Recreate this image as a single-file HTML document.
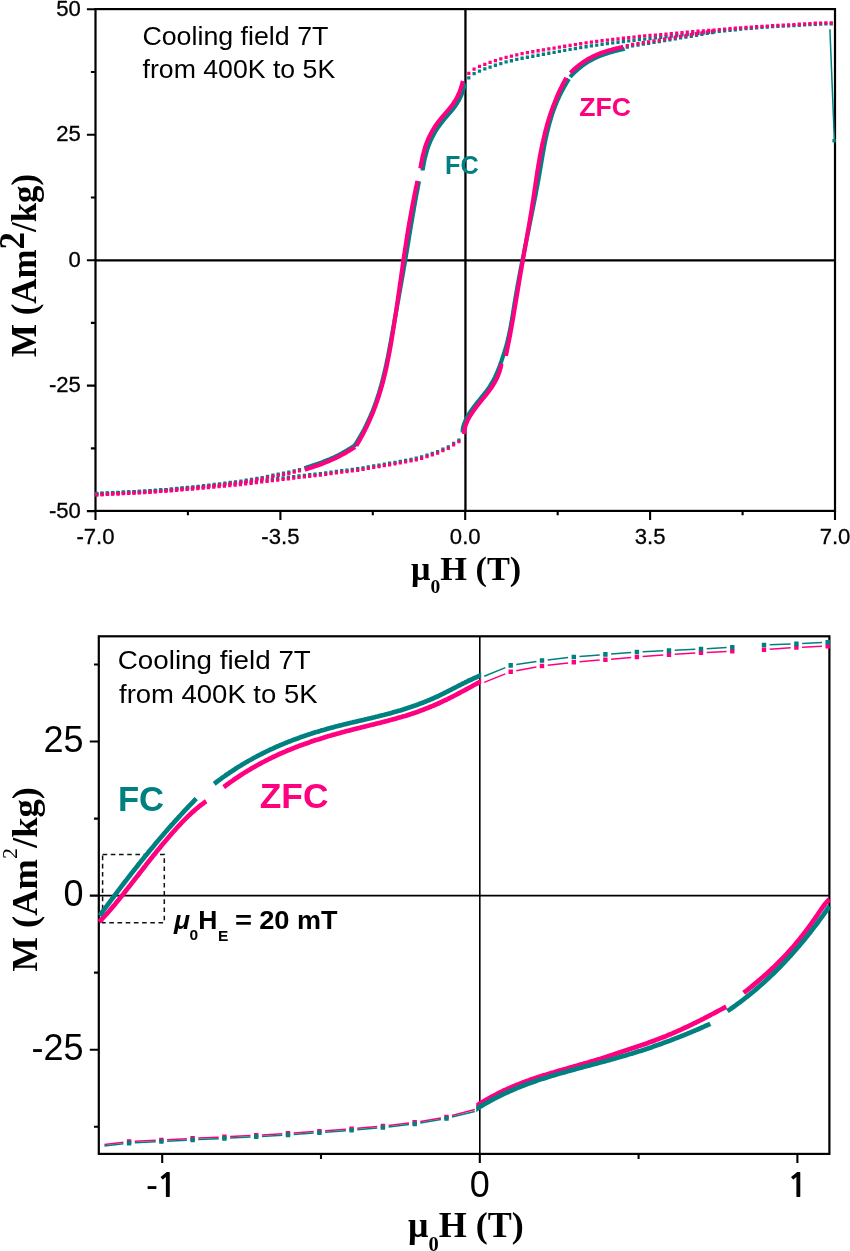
<!DOCTYPE html>
<html><head><meta charset="utf-8"><title>M-H loops</title>
<style>html,body{margin:0;padding:0;background:#fff;width:850px;height:1251px;overflow:hidden}svg{display:block}</style>
</head><body>
<svg width="850" height="1251" viewBox="0 0 850 1251">
<rect x="95.5" y="9.1" width="739.5" height="501.8" fill="none" stroke="#000" stroke-width="2.2"/><path d="M95.5,260.35H835.0" stroke="#000" stroke-width="2.1" fill="none"/><path d="M465.45,9.1V510.9" stroke="#000" stroke-width="2.3" fill="none"/><path d="M468.8,76.3v3.3M474.1,72v3.3M479.5,69.4v3.3M484.8,67.3v3.3M490.1,65.4v3.3M495.4,63.6v3.3M500.8,61.9v3.3M506.1,60.3v3.3M511.4,59.1v3.3M516.8,57.8v3.3M522.1,56.6v3.3M527.4,55.6v3.3M532.8,54.6v3.3M538.1,53.6v3.3M543.4,52.6v3.3M548.8,51.6v3.3M554.1,50.7v3.3M559.4,49.7v3.3M564.7,48.8v3.3M570.1,47.8v3.3M575.4,46.9v3.3M580.7,46v3.3M586.1,45.1v3.3M591.4,44.3v3.3M596.7,43.5v3.3M602.1,42.8v3.3M607.4,42v3.3M612.7,41.3v3.3M618,40.6v3.3M623.4,40v3.3M628.7,39.3v3.3M634,38.7v3.3M639.4,38v3.3M644.7,37.4v3.3M650,36.9v3.3M655.4,36.3v3.3M660.7,35.7v3.3M666,35.1v3.3M671.3,34.5v3.3M676.7,33.9v3.3M682,33.3v3.3M687.3,32.7v3.3M692.7,32.1v3.3M698,31.7v3.3M703.3,31.2v3.3M708.7,30.7v3.3M714,30.2v3.3M719.3,29.7v3.3M724.6,29.2v3.3M730,28.6v3.3M735.3,28.1v3.3M740.6,27.5v3.3M746,27v3.3M751.3,26.6v3.3M756.6,26.1v3.3M762,25.7v3.3M767.3,25.4v3.3M772.6,25v3.3M777.9,24.7v3.3M783.3,24.4v3.3M788.6,24.2v3.3M793.9,23.9v3.3M799.3,23.6v3.3M804.6,23.3v3.3M809.9,22.9v3.3M815.3,22.6v3.3M820.6,22.4v3.3M825.9,22.3v3.3M831.2,22.3v3.3" stroke="#008080" stroke-width="3.2" fill="none"/><path d="M465.1,83.2 L464.7,84.7 L464.3,86.2 L463.9,87.7 L463.4,89.2 L463,90.7 L462.4,92.2 L461.9,93.7 L461.3,95.2 L460.6,96.7 L459.9,98.2 L459.2,99.7 L458.3,101.2 L457.4,102.7 L456.5,104.2 L455.5,105.7 L454.4,107.2 L453.2,108.7 L452,110.2 L450.8,111.7 L449.5,113.2 L448.2,114.7 L446.9,116.2 L445.6,117.7 L444.3,119.2 L443.1,120.7 L441.9,122.2 L440.7,123.7 L439.6,125.2 L438.5,126.7 L437.5,128.2 L436.5,129.7 L435.6,131.2 L434.7,132.7 L433.9,134.2 L433.1,135.7 L432.3,137.2 L431.6,138.7 L430.9,140.2 L430.2,141.7 L429.6,143.2 L429,144.7 L428.4,146.2 L427.9,147.7 L427.4,149.2 L426.9,150.7 L426.5,152.2 L426.1,153.7 L425.7,155.2 L425.3,156.7 L424.9,158.2 L424.6,159.7 L424.3,161.2 L424,162.7 L423.7,164.2 L423.4,165.7 L423.1,167.2 L422.9,168.7 L422.6,170.2 L422.6,170.6" fill="none" stroke="#008080" stroke-width="4.15" stroke-linejoin="round" stroke-linecap="butt"/><path d="M419,181.4 L418.7,182.9 L418.4,184.4 L418.1,185.9 L417.8,187.4 L417.6,188.9 L417.3,190.4 L417,191.9 L416.7,193.4 L416.4,194.9 L416.1,196.4 L415.9,197.9 L415.6,199.4 L415.3,200.9 L415,202.4 L414.8,203.9 L414.5,205.4 L414.2,206.9 L414,208.4 L413.7,209.9 L413.5,211.4 L413.2,212.9 L412.9,214.4 L412.7,215.9 L412.4,217.4 L412.2,218.9 L411.9,220.4 L411.7,221.9 L411.4,223.4 L411.1,224.9 L410.9,226.4 L410.6,227.9 L410.4,229.4 L410.1,230.9 L409.9,232.4 L409.6,233.9 L409.4,235.4 L409.1,236.9 L408.9,238.4 L408.6,239.9 L408.4,241.4 L408.2,242.9 L407.9,244.4 L407.7,245.9 L407.4,247.4 L407.2,248.9 L406.9,250.4 L406.7,251.9 L406.4,253.4 L406.1,254.9 L405.9,256.4 L405.6,257.9 L405.4,259.4 L405.1,260.9 L404.9,262.4 L404.6,263.9 L404.4,265.4 L404.1,266.9 L403.8,268.4 L403.6,269.9 L403.3,271.4 L403.1,272.9 L402.8,274.4 L402.5,275.9 L402.3,277.4 L402,278.9 L401.7,280.4 L401.5,281.9 L401.2,283.4 L400.9,284.9 L400.7,286.4 L400.4,287.9 L400.1,289.4 L399.9,290.9 L399.6,292.4 L399.3,293.9 L399.1,295.4 L398.8,296.9 L398.5,298.4 L398.3,299.9 L398,301.4 L397.7,302.9 L397.4,304.4 L397.2,305.9 L396.9,307.4 L396.6,308.9 L396.4,310.4 L396.1,311.9 L395.8,313.4 L395.6,314.9 L395.3,316.4 L395,317.9 L394.7,319.4 L394.5,320.9 L394.2,322.4 L393.9,323.9 L393.7,325.4 L393.4,326.9 L393.1,328.4 L392.9,329.9 L392.6,331.4 L392.3,332.9 L392,334.4 L391.8,335.9 L391.5,337.4 L391.2,338.9 L391,340.4 L390.7,341.9 L390.4,343.4 L390.2,344.9 L389.9,346.4 L389.6,347.9 L389.3,349.4 L389,350.9 L388.7,352.4 L388.5,353.9 L388.2,355.4 L387.9,356.9 L387.6,358.4 L387.3,359.9 L386.9,361.4 L386.6,362.9 L386.3,364.4 L386,365.9 L385.7,367.4 L385.3,368.9 L385,370.4 L384.6,371.9 L384.3,373.4 L383.9,374.9 L383.5,376.4 L383.2,377.9 L382.8,379.4 L382.4,380.9 L382,382.4 L381.6,383.9 L381.2,385.4 L380.7,386.9 L380.3,388.4 L379.9,389.9 L379.4,391.4 L379,392.9 L378.5,394.4 L378,395.9 L377.5,397.4 L377,398.9 L376.5,400.4 L376,401.9 L375.4,403.4 L374.9,404.9 L374.3,406.4 L373.8,407.9 L373.2,409.4 L372.6,410.9 L372,412.4 L371.4,413.9 L370.7,415.4 L370.1,416.9 L369.4,418.4 L368.7,419.9 L368,421.4 L367.3,422.9 L366.6,424.4 L365.9,425.9 L365.1,427.4 L364.4,428.9 L363.6,430.4 L362.8,431.9 L362,433.4 L361.1,434.9 L360.3,436.4 L359.4,437.9 L358.5,439.4 L357.6,440.9 L356.7,442.4 L355.8,443.9 L355.2,444.9" fill="none" stroke="#008080" stroke-width="4.15" stroke-linejoin="round" stroke-linecap="butt"/><path d="M304.4,468.1 L305.9,467.7 L307.4,467.2 L308.9,466.7 L310.4,466.3 L311.9,465.8 L313.4,465.3 L314.9,464.8 L316.4,464.3 L317.9,463.7 L319.4,463.2 L320.9,462.7 L322.4,462.1 L323.9,461.5 L325.4,460.9 L326.9,460.3 L328.4,459.7 L329.9,459.1 L331.4,458.4 L332.9,457.8 L334.4,457.1 L335.9,456.4 L337.4,455.6 L338.9,454.9 L340.4,454.1 L341.9,453.3 L343.4,452.4 L344.9,451.6 L346.4,450.7 L347.9,449.8 L349.4,448.9 L350.9,447.9 L352.4,446.9 L353.9,445.9 L355.4,444.8 L356.2,444.3" fill="none" stroke="#008080" stroke-width="4.15" stroke-linejoin="round" stroke-linecap="butt"/><path d="M299.5,467.9v3.3M294.2,469.2v3.3M288.8,470.5v3.3M283.5,471.5v3.3M278.2,472.6v3.3M272.9,473.6v3.3M267.5,474.8v3.3M262.2,475.9v3.3M256.9,476.8v3.3M251.5,477.7v3.3M246.2,478.6v3.3M240.9,479.5v3.3M235.5,480.2v3.3M230.2,480.8v3.3M224.9,481.5v3.3M219.6,482.2v3.3M214.2,482.8v3.3M208.9,483.4v3.3M203.6,484.1v3.3M198.2,484.7v3.3M192.9,485.2v3.3M187.6,485.8v3.3M182.2,486.3v3.3M176.9,486.8v3.3M171.6,487.4v3.3M166.2,487.9v3.3M160.9,488.3v3.3M155.6,488.7v3.3M150.3,489.2v3.3M144.9,489.5v3.3M139.6,489.8v3.3M134.3,490.1v3.3M128.9,490.3v3.3M123.6,490.6v3.3M118.3,490.9v3.3M112.9,491.1v3.3M107.6,491.4v3.3M102.3,491.7v3.3M97,492v3.3" stroke="#008080" stroke-width="3.2" fill="none"/><path d="M96.5,491.7v3.3M101.8,491.4v3.3M107.2,491.2v3.3M112.5,490.9v3.3M117.8,490.7v3.3M123.1,490.4v3.3M128.5,490.2v3.3M133.8,489.9v3.3M139.1,489.7v3.3M144.5,489.5v3.3M149.8,489.1v3.3M155.1,488.7v3.3M160.5,488.3v3.3M165.8,488v3.3M171.1,487.6v3.3M176.5,487.2v3.3M181.8,486.7v3.3M187.1,486.3v3.3M192.4,485.9v3.3M197.8,485.5v3.3M203.1,485v3.3M208.4,484.5v3.3M213.8,484v3.3M219.1,483.5v3.3M224.4,483v3.3M229.8,482.5v3.3M235.1,482v3.3M240.4,481.5v3.3M245.7,480.8v3.3M251.1,480.2v3.3M256.4,479.5v3.3M261.7,478.8v3.3M267.1,478.2v3.3M272.4,477.5v3.3M277.7,476.9v3.3M283.1,476.2v3.3M288.4,475.6v3.3M293.7,474.9v3.3M299,474.3v3.3M304.4,473.7v3.3M309.7,473.1v3.3M315,472.5v3.3M320.4,471.9v3.3M325.7,471.2v3.3M331,470.5v3.3M336.4,469.8v3.3M341.7,469v3.3M347,468.4v3.3M352.3,467.8v3.3M357.7,467.1v3.3M363,466.2v3.3M368.3,465.3v3.3M373.7,464.3v3.3M379,463.4v3.3M384.3,462.5v3.3M389.6,461.6v3.3M395,460.7v3.3M400.3,459.8v3.3M405.6,458.8v3.3M411,457.7v3.3M416.3,456.6v3.3M421.6,455.3v3.3M427,453.5v3.3M432.3,451.8v3.3M437.6,449.9v3.3M442.9,447.5v3.3M448.3,445.2v3.3M453.6,441.8v3.3M458.9,438.5v3.3" stroke="#008080" stroke-width="3.2" fill="none"/><path d="M568.9,78.9 L568,80.4 L567.1,81.9 L566.2,83.4 L565.3,84.9 L564.4,86.4 L563.6,87.9 L562.8,89.4 L562,90.9 L561.2,92.4 L560.5,93.9 L559.7,95.4 L559,96.9 L558.4,98.4 L557.7,99.9 L557,101.4 L556.4,102.9 L555.8,104.4 L555.2,105.9 L554.6,107.4 L554.1,108.9 L553.5,110.4 L553,111.9 L552.5,113.4 L552,114.9 L551.5,116.4 L551.1,117.9 L550.6,119.4 L550.2,120.9 L549.7,122.4 L549.3,123.9 L548.9,125.4 L548.5,126.9 L548.1,128.4 L547.8,129.9 L547.4,131.4 L547,132.9 L546.7,134.4 L546.4,135.9 L546,137.4 L545.7,138.9 L545.4,140.4 L545.1,141.9 L544.8,143.4 L544.5,144.9 L544.2,146.4 L543.9,147.9 L543.7,149.4 L543.4,150.9 L543.1,152.4 L542.9,153.9 L542.6,155.4 L542.3,156.9 L542.1,158.4 L541.8,159.9 L541.6,161.4 L541.3,162.9 L541.1,164.4 L540.8,165.9 L540.6,167.4 L540.3,168.9 L540,170.4 L539.8,171.9 L539.5,173.4 L539.3,174.9 L539,176.4 L538.7,177.9 L538.5,179.4 L538.2,180.9 L537.9,182.4 L537.6,183.9 L537.4,185.4 L537.1,186.9 L536.8,188.4 L536.5,189.9 L536.2,191.4 L535.9,192.9 L535.7,194.4 L535.4,195.9 L535.1,197.4 L534.8,198.9 L534.5,200.4 L534.2,201.9 L533.9,203.4 L533.6,204.9 L533.3,206.4 L533,207.9 L532.7,209.4 L532.4,210.9 L532.1,212.4 L531.8,213.9 L531.5,215.4 L531.2,216.9 L530.9,218.4 L530.6,219.9 L530.3,221.4 L530,222.9 L529.7,224.4 L529.4,225.9 L529.1,227.4 L528.8,228.9 L528.5,230.4 L528.2,231.9 L527.8,233.4 L527.5,234.9 L527.2,236.4 L526.9,237.9 L526.6,239.4 L526.3,240.9 L526,242.4 L525.7,243.9 L525.4,245.4 L525.1,246.9 L524.8,248.4 L524.5,249.9 L524.2,251.4 L523.9,252.9 L523.6,254.4 L523.3,255.9 L523,257.4 L522.7,258.9 L522.4,260.4 L522.1,261.9 L521.8,263.4 L521.5,264.9 L521.2,266.4 L520.9,267.9 L520.6,269.4 L520.4,270.9 L520.1,272.4 L519.8,273.9 L519.5,275.4 L519.2,276.9 L518.9,278.4 L518.7,279.9 L518.4,281.4 L518.1,282.9 L517.8,284.4 L517.6,285.9 L517.3,287.4 L517,288.9 L516.8,290.4 L516.5,291.9 L516.2,293.4 L516,294.9 L515.7,296.4 L515.5,297.9 L515.2,299.4 L515,300.9 L514.7,302.4 L514.5,303.9 L514.2,305.4 L514,306.9 L513.7,308.4 L513.5,309.9 L513.3,311.4 L513,312.9 L512.8,314.4 L512.5,315.9 L512.3,317.4 L512,318.9 L511.8,320.4 L511.5,321.9 L511.3,323.4 L511,324.9 L510.7,326.4 L510.4,327.9 L510.1,329.4 L509.8,330.9 L509.5,332.4 L509.2,333.9 L508.9,335.4 L508.5,336.9 L508.2,338.4 L507.8,339.9 L507.5,341.4 L507.1,342.9 L506.7,344.4 L506.3,345.9 L505.8,347.4 L505.4,348.9 L504.9,350.4 L504.5,351.9 L504,353.4 L503.5,354.9 L503,356.4 L502.5,357.9 L502,359.4 L501.5,360.9 L500.9,362.4 L500.4,363.9 L499.9,365.4 L499.3,366.9 L498.7,368.4 L498.1,369.9 L497.5,371.4 L496.9,372.9 L496.2,374.4 L495.6,375.9 L494.9,377.4 L494.1,378.9 L493.3,380.4 L492.5,381.9 L491.6,383.4 L490.7,384.9 L489.8,386.4 L488.8,387.9 L487.7,389.4 L486.6,390.9 L485.5,392.4 L484.3,393.9 L483.1,395.4 L481.9,396.9 L480.7,398.4 L479.5,399.9 L478.2,401.4 L477,402.9 L475.8,404.4 L474.7,405.9 L473.5,407.4 L472.4,408.9 L471.3,410.4 L470.3,411.9 L469.3,413.4 L468.4,414.9 L467.5,416.4 L466.7,417.9 L466,419.4 L465.3,420.9 L464.7,422.4 L464.1,423.9 L463.6,425.4 L463.3,426.9 L462.9,428.4 L462.7,429.9 L462.6,431.4 L462.5,432.5" fill="none" stroke="#008080" stroke-width="4.15" stroke-linejoin="round" stroke-linecap="butt"/><path d="M570.1,77 L571.6,75.3 L573.1,73.8 L574.6,72.3 L576.1,70.9 L577.6,69.6 L579.1,68.3 L580.6,67.1 L582.1,65.9 L583.6,64.8 L585.1,63.8 L586.6,62.8 L588.1,61.8 L589.6,60.9 L591.1,60.1 L592.6,59.3 L594.1,58.5 L595.6,57.8 L597.1,57.1 L598.6,56.5 L600.1,55.9 L601.6,55.3 L603.1,54.7 L604.6,54.2 L606.1,53.7 L607.6,53.2 L609.1,52.8 L610.6,52.3 L612.1,51.9 L613.6,51.5 L615.1,51.1 L616.6,50.7 L618.1,50.3 L619.6,50 L621.1,49.6 L622.6,49.2 L624.1,48.9 L624.6,48.7" fill="none" stroke="#008080" stroke-width="4.15" stroke-linejoin="round" stroke-linecap="butt"/><path d="M627.3,45.4v3.3M632.6,44.3v3.3M638,43.4v3.3M643.3,42.5v3.3M648.6,41.7v3.3M654,40.8v3.3M659.3,39.9v3.3M664.6,39v3.3M669.9,38.1v3.3M675.3,37.1v3.3M680.6,36.3v3.3M685.9,35.4v3.3M691.3,34.6v3.3M696.6,33.6v3.3M701.9,32.7v3.3M707.3,31.8v3.3M712.6,30.9v3.3" stroke="#008080" stroke-width="3.2" fill="none"/><path d="M829.9,29.2L834.4,140.8" stroke="#008080" stroke-width="1.5" fill="none"/><rect x="832.4" y="139" width="3.4" height="3.4" fill="#008080"/><path d="M468.8,71.8v3.3M474.1,67.4v3.3M479.5,64.8v3.3M484.8,62.7v3.3M490.1,60.8v3.3M495.4,59v3.3M500.8,57.3v3.3M506.1,55.7v3.3M511.4,54.5v3.3M516.8,53.2v3.3M522.1,52v3.3M527.4,51v3.3M532.8,50.1v3.3M538.1,49.1v3.3M543.4,48.2v3.3M548.8,47.3v3.3M554.1,46.4v3.3M559.4,45.5v3.3M564.7,44.6v3.3M570.1,43.7v3.3M575.4,42.9v3.3M580.7,42.1v3.3M586.1,41.3v3.3M591.4,40.4v3.3M596.7,39.8v3.3M602.1,39.1v3.3M607.4,38.4v3.3M612.7,37.7v3.3M618,37.2v3.3M623.4,36.6v3.3M628.7,36v3.3M634,35.4v3.3M639.4,34.8v3.3M644.7,34.3v3.3M650,33.8v3.3M655.4,33.4v3.3M660.7,32.9v3.3M666,32.4v3.3M671.3,31.9v3.3M676.7,31.4v3.3M682,30.9v3.3M687.3,30.4v3.3M692.7,29.9v3.3M698,29.5v3.3M703.3,29.2v3.3M708.7,28.8v3.3M714,28.4v3.3M719.3,28v3.3M724.6,27.5v3.3M730,27.1v3.3M735.3,26.6v3.3M740.6,26.2v3.3M746,25.8v3.3M751.3,25.4v3.3M756.6,25.1v3.3M762,24.7v3.3M767.3,24.4v3.3M772.6,24v3.3M777.9,23.7v3.3M783.3,23.4v3.3M788.6,23.2v3.3M793.9,22.9v3.3M799.3,22.6v3.3M804.6,22.3v3.3M809.9,21.9v3.3M815.3,21.6v3.3M820.6,21.4v3.3M825.9,21.3v3.3M831.2,21.3v3.3" stroke="#ff0080" stroke-width="3.2" fill="none"/><path d="M462.9,81 L462.5,82.5 L462.1,84 L461.7,85.5 L461.2,87 L460.8,88.5 L460.2,90 L459.7,91.5 L459.1,93 L458.4,94.5 L457.7,96 L457,97.5 L456.1,99 L455.2,100.5 L454.3,102 L453.3,103.5 L452.2,105 L451,106.5 L449.8,108 L448.6,109.5 L447.3,111 L446,112.5 L444.7,114 L443.4,115.5 L442.1,117 L440.9,118.5 L439.7,120 L438.5,121.5 L437.4,123 L436.3,124.5 L435.3,126 L434.3,127.5 L433.4,129 L432.5,130.5 L431.7,132 L430.9,133.5 L430.1,135 L429.4,136.5 L428.7,138 L428,139.5 L427.4,141 L426.8,142.5 L426.2,144 L425.7,145.5 L425.2,147 L424.7,148.5 L424.3,150 L423.9,151.5 L423.5,153 L423.1,154.5 L422.7,156 L422.4,157.5 L422.1,159 L421.8,160.5 L421.5,162 L421.2,163.5 L420.9,165 L420.7,166.5 L420.5,168 L420.4,168.5" fill="none" stroke="#ff0080" stroke-width="4.15" stroke-linejoin="round" stroke-linecap="butt"/><path d="M417.5,180.9 L417.2,182.4 L416.8,183.9 L416.5,185.4 L416.2,186.9 L415.8,188.4 L415.5,189.9 L415.2,191.4 L414.9,192.9 L414.6,194.4 L414.3,195.9 L414,197.4 L413.7,198.9 L413.4,200.4 L413.1,201.9 L412.8,203.4 L412.5,204.9 L412.2,206.4 L412,207.9 L411.7,209.4 L411.4,210.9 L411.1,212.4 L410.9,213.9 L410.6,215.4 L410.3,216.9 L410.1,218.4 L409.8,219.9 L409.5,221.4 L409.3,222.9 L409,224.4 L408.8,225.9 L408.5,227.4 L408.3,228.9 L408,230.4 L407.8,231.9 L407.5,233.4 L407.3,234.9 L407,236.4 L406.8,237.9 L406.6,239.4 L406.3,240.9 L406.1,242.4 L405.9,243.9 L405.6,245.4 L405.4,246.9 L405.2,248.4 L404.9,249.9 L404.7,251.4 L404.5,252.9 L404.3,254.4 L404,255.9 L403.8,257.4 L403.6,258.9 L403.4,260.4 L403.2,261.9 L402.9,263.4 L402.7,264.9 L402.5,266.4 L402.3,267.9 L402.1,269.4 L401.9,270.9 L401.6,272.4 L401.4,273.9 L401.2,275.4 L401,276.9 L400.8,278.4 L400.6,279.9 L400.4,281.4 L400.2,282.9 L399.9,284.4 L399.7,285.9 L399.5,287.4 L399.3,288.9 L399.1,290.4 L398.9,291.9 L398.7,293.4 L398.4,294.9 L398.2,296.4 L398,297.9 L397.8,299.4 L397.6,300.9 L397.4,302.4 L397.2,303.9 L396.9,305.4 L396.7,306.9 L396.5,308.4 L396.3,309.9 L396.1,311.4 L395.8,312.9 L395.6,314.4 L395.4,315.9 L395.2,317.4 L394.9,318.9 L394.7,320.4 L394.5,321.9 L394.3,323.4 L394,324.9 L393.8,326.4 L393.6,327.9 L393.3,329.4 L393.1,330.9 L392.9,332.4 L392.6,333.9 L392.4,335.4 L392.2,336.9 L391.9,338.4 L391.7,339.9 L391.4,341.4 L391.2,342.9 L390.9,344.4 L390.6,345.9 L390.4,347.4 L390.1,348.9 L389.8,350.4 L389.6,351.9 L389.3,353.4 L389,354.9 L388.7,356.4 L388.4,357.9 L388.1,359.4 L387.8,360.9 L387.5,362.4 L387.2,363.9 L386.9,365.4 L386.6,366.9 L386.3,368.4 L385.9,369.9 L385.6,371.4 L385.2,372.9 L384.9,374.4 L384.5,375.9 L384.1,377.4 L383.8,378.9 L383.4,380.4 L383,381.9 L382.6,383.4 L382.2,384.9 L381.8,386.4 L381.3,387.9 L380.9,389.4 L380.5,390.9 L380,392.4 L379.5,393.9 L379.1,395.4 L378.6,396.9 L378.1,398.4 L377.6,399.9 L377.1,401.4 L376.5,402.9 L376,404.4 L375.5,405.9 L374.9,407.4 L374.3,408.9 L373.8,410.4 L373.2,411.9 L372.6,413.4 L372,414.9 L371.3,416.4 L370.7,417.9 L370,419.4 L369.4,420.9 L368.7,422.4 L368,423.9 L367.3,425.4 L366.6,426.9 L365.8,428.4 L365.1,429.9 L364.3,431.4 L363.6,432.9 L362.8,434.4 L362,435.9 L361.1,437.4 L360.3,438.9 L359.5,440.4 L358.6,441.9 L357.7,443.4 L356.8,444.9 L356.3,445.8" fill="none" stroke="#ff0080" stroke-width="4.15" stroke-linejoin="round" stroke-linecap="butt"/><path d="M304.7,469.6 L306.2,469.2 L307.7,468.7 L309.2,468.3 L310.7,467.8 L312.2,467.3 L313.7,466.8 L315.2,466.3 L316.7,465.8 L318.2,465.3 L319.7,464.8 L321.2,464.2 L322.7,463.6 L324.2,463 L325.7,462.4 L327.2,461.8 L328.7,461.2 L330.2,460.5 L331.7,459.9 L333.2,459.2 L334.7,458.5 L336.2,457.8 L337.7,457 L339.2,456.3 L340.7,455.5 L342.2,454.7 L343.7,453.9 L345.2,453.1 L346.7,452.2 L348.2,451.3 L349.7,450.4 L351.2,449.5 L352.7,448.5 L354.2,447.6 L355,447.1" fill="none" stroke="#ff0080" stroke-width="4.15" stroke-linejoin="round" stroke-linecap="butt"/><path d="M299.5,469.1v3.3M294.2,470.4v3.3M288.8,471.7v3.3M283.5,472.7v3.3M278.2,473.8v3.3M272.9,474.8v3.3M267.5,476v3.3M262.2,477.1v3.3M256.9,478v3.3M251.5,478.9v3.3M246.2,479.8v3.3M240.9,480.7v3.3M235.5,481.4v3.3M230.2,482v3.3M224.9,482.7v3.3M219.6,483.4v3.3M214.2,484v3.3M208.9,484.6v3.3M203.6,485.3v3.3M198.2,485.9v3.3M192.9,486.4v3.3M187.6,487v3.3M182.2,487.5v3.3M176.9,488v3.3M171.6,488.6v3.3M166.2,489.1v3.3M160.9,489.5v3.3M155.6,489.9v3.3M150.3,490.4v3.3M144.9,490.7v3.3M139.6,491v3.3M134.3,491.3v3.3M128.9,491.5v3.3M123.6,491.8v3.3M118.3,492.1v3.3M112.9,492.3v3.3M107.6,492.6v3.3M102.3,492.9v3.3M97,493.2v3.3" stroke="#ff0080" stroke-width="3.2" fill="none"/><path d="M96.5,493.2v3.3M101.8,492.9v3.3M107.2,492.7v3.3M112.5,492.4v3.3M117.8,492.2v3.3M123.1,491.9v3.3M128.5,491.7v3.3M133.8,491.4v3.3M139.1,491.2v3.3M144.5,491v3.3M149.8,490.6v3.3M155.1,490.2v3.3M160.5,489.8v3.3M165.8,489.5v3.3M171.1,489.1v3.3M176.5,488.7v3.3M181.8,488.2v3.3M187.1,487.8v3.3M192.4,487.4v3.3M197.8,487v3.3M203.1,486.5v3.3M208.4,486v3.3M213.8,485.5v3.3M219.1,485v3.3M224.4,484.5v3.3M229.8,484v3.3M235.1,483.5v3.3M240.4,483v3.3M245.7,482.3v3.3M251.1,481.7v3.3M256.4,481v3.3M261.7,480.3v3.3M267.1,479.7v3.3M272.4,479v3.3M277.7,478.4v3.3M283.1,477.7v3.3M288.4,477.1v3.3M293.7,476.4v3.3M299,475.8v3.3M304.4,475.2v3.3M309.7,474.6v3.3M315,474v3.3M320.4,473.4v3.3M325.7,472.7v3.3M331,472v3.3M336.4,471.3v3.3M341.7,470.5v3.3M347,469.9v3.3M352.3,469.3v3.3M357.7,468.6v3.3M363,467.7v3.3M368.3,466.8v3.3M373.7,465.8v3.3M379,464.9v3.3M384.3,464v3.3M389.6,463.1v3.3M395,462.2v3.3M400.3,461.3v3.3M405.6,460.3v3.3M411,459.2v3.3M416.3,458.1v3.3M421.6,456.8v3.3M427,455v3.3M432.3,453.3v3.3M437.6,451.4v3.3M442.9,449v3.3M448.3,446.7v3.3M453.6,443.3v3.3M458.9,440v3.3" stroke="#ff0080" stroke-width="3.2" fill="none"/><path d="M501.4,363.5 L501.2,365 L500.9,366.5 L500.6,368 L500.2,369.5 L499.7,371 L499.2,372.5 L498.7,374 L498.1,375.5 L497.5,377 L496.8,378.5 L496,380 L495.2,381.5 L494.4,383 L493.5,384.5 L492.5,386 L491.5,387.5 L490.5,389 L489.4,390.5 L488.3,392 L487.2,393.5 L486,395 L484.8,396.5 L483.6,398 L482.3,399.5 L481.1,401 L479.9,402.5 L478.7,404 L477.5,405.5 L476.3,407 L475.2,408.5 L474.1,410 L473,411.5 L472,413 L471,414.5 L470.1,416 L469.2,417.5 L468.4,419 L467.6,420.5 L467,422 L466.3,423.5 L465.8,425 L465.3,426.5 L464.9,428 L464.6,429.5 L464.3,431 L464.1,432.5 L464,434" fill="none" stroke="#ff0080" stroke-width="4.15" stroke-linejoin="round" stroke-linecap="butt"/><path d="M566.3,77.7 L565.5,79.2 L564.7,80.7 L563.9,82.2 L563.1,83.7 L562.3,85.2 L561.6,86.7 L560.8,88.2 L560.1,89.7 L559.4,91.2 L558.7,92.7 L558,94.2 L557.4,95.7 L556.7,97.2 L556.1,98.7 L555.5,100.2 L554.9,101.7 L554.3,103.2 L553.7,104.7 L553.1,106.2 L552.6,107.7 L552,109.2 L551.5,110.7 L551,112.2 L550.5,113.7 L550,115.2 L549.5,116.7 L549,118.2 L548.6,119.7 L548.1,121.2 L547.7,122.7 L547.2,124.2 L546.8,125.7 L546.4,127.2 L546,128.7 L545.6,130.2 L545.2,131.7 L544.8,133.2 L544.5,134.7 L544.1,136.2 L543.8,137.7 L543.4,139.2 L543.1,140.7 L542.7,142.2 L542.4,143.7 L542.1,145.2 L541.8,146.7 L541.5,148.2 L541.2,149.7 L540.9,151.2 L540.6,152.7 L540.3,154.2 L540,155.7 L539.8,157.2 L539.5,158.7 L539.2,160.2 L539,161.7 L538.7,163.2 L538.5,164.7 L538.2,166.2 L538,167.7 L537.7,169.2 L537.5,170.7 L537.2,172.2 L537,173.7 L536.8,175.2 L536.6,176.7 L536.3,178.2 L536.1,179.7 L535.9,181.2 L535.7,182.7 L535.4,184.2 L535.2,185.7 L535,187.2 L534.8,188.7 L534.5,190.2 L534.3,191.7 L534.1,193.2 L533.9,194.7 L533.6,196.2 L533.4,197.7 L533.2,199.2 L533,200.7 L532.7,202.2 L532.5,203.7 L532.3,205.2 L532,206.7 L531.8,208.2 L531.5,209.7 L531.3,211.2 L531.1,212.7 L530.8,214.2 L530.6,215.7 L530.3,217.2 L530.1,218.7 L529.8,220.2 L529.6,221.7 L529.3,223.2 L529.1,224.7 L528.8,226.2 L528.6,227.7 L528.3,229.2 L528,230.7 L527.8,232.2 L527.5,233.7 L527.3,235.2 L527,236.7 L526.7,238.2 L526.5,239.7 L526.2,241.2 L526,242.7 L525.7,244.2 L525.4,245.7 L525.2,247.2 L524.9,248.7 L524.7,250.2 L524.4,251.7 L524.1,253.2 L523.9,254.7 L523.6,256.2 L523.3,257.7 L523.1,259.2 L522.8,260.7 L522.6,262.2 L522.3,263.7 L522,265.2 L521.8,266.7 L521.5,268.2 L521.3,269.7 L521,271.2 L520.7,272.7 L520.5,274.2 L520.2,275.7 L520,277.2 L519.7,278.7 L519.5,280.2 L519.2,281.7 L519,283.2 L518.7,284.7 L518.5,286.2 L518.2,287.7 L518,289.2 L517.7,290.7 L517.5,292.2 L517.2,293.7 L517,295.2 L516.7,296.7 L516.5,298.2 L516.2,299.7 L516,301.2 L515.7,302.7 L515.5,304.2 L515.2,305.7 L515,307.2 L514.7,308.7 L514.5,310.2 L514.2,311.7 L514,313.2 L513.7,314.7 L513.5,316.2 L513.2,317.7 L513,319.2 L512.7,320.7 L512.4,322.2 L512.2,323.7 L511.9,325.2 L511.6,326.7 L511.4,328.2 L511.1,329.7 L510.8,331.2 L510.5,332.7 L510.3,334.2 L510,335.7 L509.7,337.2 L509.4,338.7 L509.1,340.2 L508.8,341.7 L508.5,343.2 L508.2,344.7 L507.9,346.2 L507.6,347.7 L507.3,349.2 L507,350.7 L506.7,352.2 L506.4,353.7 L506,355.2 L505.9,356" fill="none" stroke="#ff0080" stroke-width="4.15" stroke-linejoin="round" stroke-linecap="butt"/><path d="M570.3,72.8 L571.8,71.4 L573.3,70 L574.8,68.6 L576.3,67.3 L577.8,66.1 L579.3,64.9 L580.8,63.8 L582.3,62.7 L583.8,61.7 L585.3,60.7 L586.8,59.8 L588.3,58.9 L589.8,58.1 L591.3,57.3 L592.8,56.5 L594.3,55.8 L595.8,55.1 L597.3,54.5 L598.8,53.9 L600.3,53.3 L601.8,52.7 L603.3,52.2 L604.8,51.7 L606.3,51.2 L607.8,50.8 L609.3,50.3 L610.8,49.9 L612.3,49.5 L613.8,49.1 L615.3,48.7 L616.8,48.3 L618.3,48 L619.8,47.6 L621.3,47.3 L622.8,46.9 L623,46.9" fill="none" stroke="#ff0080" stroke-width="4.15" stroke-linejoin="round" stroke-linecap="butt"/><path d="M627.3,43.9v3.3M632.6,42.8v3.3M638,41.9v3.3M643.3,41v3.3M648.6,40.2v3.3M654,39.3v3.3M659.3,38.4v3.3M664.6,37.5v3.3M669.9,36.6v3.3M675.3,35.6v3.3M680.6,34.8v3.3M685.9,33.9v3.3M691.3,33.1v3.3M696.6,32.1v3.3M701.9,31.2v3.3M707.3,30.3v3.3M712.6,29.4v3.3" stroke="#ff0080" stroke-width="3.2" fill="none"/><path d="M86.9,9.3H95.5M86.9,134.8H95.5M86.9,260.2H95.5M86.9,385.6H95.5M86.9,511.1H95.5M90.9,72H95.5M90.9,197.5H95.5M90.9,322.9H95.5M90.9,448.4H95.5M95.5,510.9V519.9M280.4,510.9V519.9M465.2,510.9V519.9M650.1,510.9V519.9M835,510.9V519.9M187.9,510.9V515.1999999999999M372.8,510.9V515.1999999999999M557.7,510.9V515.1999999999999M742.6,510.9V515.1999999999999" stroke="#000" stroke-width="2.1" fill="none"/><text transform="translate(80.9,15.9) scale(0.97,1)" text-anchor="end" font-family="'Liberation Sans', Arial, Helvetica, sans-serif" font-size="22.8" font-weight="normal" fill="#000" stroke="#000" stroke-width="0.3">50</text><text transform="translate(80.9,141.3) scale(0.97,1)" text-anchor="end" font-family="'Liberation Sans', Arial, Helvetica, sans-serif" font-size="22.8" font-weight="normal" fill="#000" stroke="#000" stroke-width="0.3">25</text><text transform="translate(80.9,266.8) scale(0.97,1)" text-anchor="end" font-family="'Liberation Sans', Arial, Helvetica, sans-serif" font-size="22.8" font-weight="normal" fill="#000" stroke="#000" stroke-width="0.3">0</text><text transform="translate(80.9,392.2) scale(0.97,1)" text-anchor="end" font-family="'Liberation Sans', Arial, Helvetica, sans-serif" font-size="22.8" font-weight="normal" fill="#000" stroke="#000" stroke-width="0.3">-25</text><text transform="translate(80.9,517.7) scale(0.97,1)" text-anchor="end" font-family="'Liberation Sans', Arial, Helvetica, sans-serif" font-size="22.8" font-weight="normal" fill="#000" stroke="#000" stroke-width="0.3">-50</text><text transform="translate(95.5,544) scale(0.97,1)" text-anchor="middle" font-family="'Liberation Sans', Arial, Helvetica, sans-serif" font-size="22.8" font-weight="normal" fill="#000" stroke="#000" stroke-width="0.3">-7.0</text><text transform="translate(280.4,544) scale(0.97,1)" text-anchor="middle" font-family="'Liberation Sans', Arial, Helvetica, sans-serif" font-size="22.8" font-weight="normal" fill="#000" stroke="#000" stroke-width="0.3">-3.5</text><text transform="translate(465.2,544) scale(0.97,1)" text-anchor="middle" font-family="'Liberation Sans', Arial, Helvetica, sans-serif" font-size="22.8" font-weight="normal" fill="#000" stroke="#000" stroke-width="0.3">0.0</text><text transform="translate(650.1,544) scale(0.97,1)" text-anchor="middle" font-family="'Liberation Sans', Arial, Helvetica, sans-serif" font-size="22.8" font-weight="normal" fill="#000" stroke="#000" stroke-width="0.3">3.5</text><text transform="translate(835,544) scale(0.97,1)" text-anchor="middle" font-family="'Liberation Sans', Arial, Helvetica, sans-serif" font-size="22.8" font-weight="normal" fill="#000" stroke="#000" stroke-width="0.3">7.0</text>
<rect x="98.8" y="636.3" width="730.6" height="517.6" fill="none" stroke="#000" stroke-width="2.2"/><defs><clipPath id="cU"><rect x="95" y="630" width="386.2" height="300"/></clipPath><clipPath id="cA"><rect x="476.2" y="880" width="360" height="280"/></clipPath></defs><path d="M98.8,895.6H829.4M479.8,636.3V1153.9" stroke="#000" stroke-width="1.6" fill="none"/><rect x="102.6" y="854.4" width="61.7" height="68.3" fill="none" stroke="#111" stroke-width="1.5" stroke-dasharray="4.6 3.6"/><g clip-path="url(#cU)"><path d="M223.7,787.1 L225.2,786 L226.7,784.8 L228.2,783.8 L229.7,782.7 L231.2,781.6 L232.7,780.6 L234.2,779.5 L235.7,778.5 L237.2,777.5 L238.7,776.5 L240.2,775.5 L241.7,774.5 L243.2,773.6 L244.7,772.6 L246.2,771.7 L247.7,770.8 L249.2,769.9 L250.7,769 L252.2,768.1 L253.7,767.2 L255.2,766.4 L256.7,765.5 L258.2,764.7 L259.7,763.9 L261.2,763.1 L262.7,762.3 L264.2,761.5 L265.7,760.7 L267.2,760 L268.7,759.2 L270.2,758.5 L271.7,757.7 L273.2,757 L274.7,756.3 L276.2,755.6 L277.7,754.9 L279.2,754.2 L280.7,753.5 L282.2,752.9 L283.7,752.2 L285.2,751.6 L286.7,750.9 L288.2,750.3 L289.7,749.7 L291.2,749.1 L292.7,748.5 L294.2,747.9 L295.7,747.3 L297.2,746.7 L298.7,746.1 L300.2,745.6 L301.7,745 L303.2,744.5 L304.7,743.9 L306.2,743.4 L307.7,742.9 L309.2,742.4 L310.7,741.8 L312.2,741.3 L313.7,740.8 L315.2,740.3 L316.7,739.8 L318.2,739.4 L319.7,738.9 L321.2,738.4 L322.7,738 L324.2,737.5 L325.7,737 L327.2,736.6 L328.7,736.1 L330.2,735.7 L331.7,735.3 L333.2,734.8 L334.7,734.4 L336.2,734 L337.7,733.6 L339.2,733.2 L340.7,732.7 L342.2,732.3 L343.7,731.9 L345.2,731.5 L346.7,731.1 L348.2,730.7 L349.7,730.4 L351.2,730 L352.7,729.6 L354.2,729.2 L355.7,728.8 L357.2,728.4 L358.7,728.1 L360.2,727.7 L361.7,727.3 L363.2,726.9 L364.7,726.6 L366.2,726.2 L367.7,725.8 L369.2,725.5 L370.7,725.1 L372.2,724.7 L373.7,724.4 L375.2,724 L376.7,723.6 L378.2,723.2 L379.7,722.9 L381.2,722.5 L382.7,722.1 L384.2,721.7 L385.7,721.3 L387.2,720.9 L388.7,720.5 L390.2,720.1 L391.7,719.7 L393.2,719.3 L394.7,718.9 L396.2,718.5 L397.7,718.1 L399.2,717.6 L400.7,717.2 L402.2,716.8 L403.7,716.3 L405.2,715.9 L406.7,715.4 L408.2,714.9 L409.7,714.4 L411.2,713.9 L412.7,713.4 L414.2,712.9 L415.7,712.4 L417.2,711.9 L418.7,711.4 L420.2,710.8 L421.7,710.3 L423.2,709.7 L424.7,709.1 L426.2,708.5 L427.7,708 L429.2,707.3 L430.7,706.7 L432.2,706.1 L433.7,705.5 L435.2,704.8 L436.7,704.2 L438.2,703.5 L439.7,702.8 L441.2,702.1 L442.7,701.4 L444.2,700.7 L445.7,700 L447.2,699.3 L448.7,698.5 L450.2,697.8 L451.7,697 L453.2,696.3 L454.7,695.5 L456.2,694.7 L457.7,693.9 L459.2,693.1 L460.7,692.3 L462.2,691.5 L463.7,690.7 L465.2,689.9 L466.7,689.1 L468.2,688.3 L469.7,687.5 L471.2,686.7 L472.7,685.8 L474.2,685 L475.7,684.2 L477.2,683.4 L478.7,682.5 L480.2,681.7 L481.7,680.9 L483.2,680 L484,679.6" fill="none" stroke="#ff0080" stroke-width="4.7" stroke-linejoin="round" stroke-linecap="butt"/></g><path d="M99.2,921.8 L100.7,920.3 L102.2,918.7 L103.7,917.1 L105.2,915.5 L106.7,913.9 L108.2,912.2 L109.7,910.5 L111.2,908.7 L112.7,906.9 L114.2,905.2 L115.7,903.4 L117.2,901.5 L118.7,899.7 L120.2,897.8 L121.7,896 L123.2,894.1 L124.7,892.2 L126.2,890.3 L127.7,888.4 L129.2,886.5 L130.7,884.6 L132.2,882.6 L133.7,880.7 L135.2,878.8 L136.7,876.9 L138.2,875 L139.7,873 L141.2,871.1 L142.7,869.2 L144.2,867.3 L145.7,865.4 L147.2,863.4 L148.7,861.5 L150.2,859.6 L151.7,857.8 L153.2,855.9 L154.7,854 L156.2,852.1 L157.7,850.3 L159.2,848.5 L160.7,846.6 L162.2,844.8 L163.7,843 L165.2,841.2 L166.7,839.5 L168.2,837.7 L169.7,836 L171.2,834.2 L172.7,832.5 L174.2,830.9 L175.7,829.2 L177.2,827.5 L178.7,825.9 L180.2,824.3 L181.7,822.7 L183.2,821.2 L184.7,819.7 L186.2,818.2 L187.7,816.7 L189.2,815.2 L190.7,813.8 L192.2,812.4 L193.7,811.1 L195.2,809.8 L196.7,808.5 L198.2,807.3 L199.7,806 L201.2,804.9 L202.7,803.8 L204.2,802.7 L205.7,801.6 L206.2,801.3" fill="none" stroke="#ff0080" stroke-width="4.7" stroke-linejoin="round" stroke-linecap="butt"/><g clip-path="url(#cA)"><path d="M472.5,1108.4 L474,1107.4 L475.5,1106.4 L477,1105.4 L478.5,1104.5 L480,1103.5 L481.5,1102.6 L483,1101.7 L484.5,1100.8 L486,1099.9 L487.5,1099.1 L489,1098.2 L490.5,1097.4 L492,1096.6 L493.5,1095.8 L495,1095 L496.5,1094.2 L498,1093.4 L499.5,1092.7 L501,1092 L502.5,1091.2 L504,1090.5 L505.5,1089.8 L507,1089.1 L508.5,1088.5 L510,1087.8 L511.5,1087.2 L513,1086.5 L514.5,1085.9 L516,1085.3 L517.5,1084.7 L519,1084.1 L520.5,1083.5 L522,1082.9 L523.5,1082.3 L525,1081.8 L526.5,1081.2 L528,1080.7 L529.5,1080.1 L531,1079.6 L532.5,1079.1 L534,1078.6 L535.5,1078 L537,1077.5 L538.5,1077 L540,1076.6 L541.5,1076.1 L543,1075.6 L544.5,1075.1 L546,1074.7 L547.5,1074.2 L549,1073.7 L550.5,1073.3 L552,1072.8 L553.5,1072.4 L555,1071.9 L556.5,1071.5 L558,1071.1 L559.5,1070.6 L561,1070.2 L562.5,1069.8 L564,1069.3 L565.5,1068.9 L567,1068.5 L568.5,1068 L570,1067.6 L571.5,1067.2 L573,1066.8 L574.5,1066.3 L576,1065.9 L577.5,1065.5 L579,1065.1 L580.5,1064.6 L582,1064.2 L583.5,1063.8 L585,1063.3 L586.5,1062.9 L588,1062.5 L589.5,1062 L591,1061.6 L592.5,1061.1 L594,1060.7 L595.5,1060.2 L597,1059.8 L598.5,1059.3 L600,1058.9 L601.5,1058.4 L603,1057.9 L604.5,1057.4 L606,1057 L607.5,1056.5 L609,1056 L610.5,1055.5 L612,1055 L613.5,1054.6 L615,1054.1 L616.5,1053.6 L618,1053.1 L619.5,1052.6 L621,1052.1 L622.5,1051.6 L624,1051.1 L625.5,1050.6 L627,1050.1 L628.5,1049.6 L630,1049.1 L631.5,1048.6 L633,1048.1 L634.5,1047.5 L636,1047 L637.5,1046.5 L639,1046 L640.5,1045.5 L642,1045 L643.5,1044.4 L645,1043.9 L646.5,1043.4 L648,1042.9 L649.5,1042.3 L651,1041.8 L652.5,1041.2 L654,1040.7 L655.5,1040.1 L657,1039.6 L658.5,1039 L660,1038.4 L661.5,1037.8 L663,1037.3 L664.5,1036.7 L666,1036.1 L667.5,1035.4 L669,1034.8 L670.5,1034.2 L672,1033.6 L673.5,1032.9 L675,1032.3 L676.5,1031.6 L678,1030.9 L679.5,1030.3 L681,1029.6 L682.5,1028.9 L684,1028.2 L685.5,1027.5 L687,1026.8 L688.5,1026.1 L690,1025.4 L691.5,1024.7 L693,1023.9 L694.5,1023.2 L696,1022.5 L697.5,1021.7 L699,1021 L700.5,1020.2 L702,1019.5 L703.5,1018.7 L705,1017.9 L706.5,1017.1 L708,1016.4 L709.5,1015.6 L711,1014.8 L712.5,1014 L714,1013.2 L715.5,1012.4 L717,1011.6 L718.5,1010.8 L720,1010 L721.5,1009.2 L723,1008.4 L724.5,1007.6 L726,1006.7 L726.2,1006.6" fill="none" stroke="#ff0080" stroke-width="4.7" stroke-linejoin="round" stroke-linecap="butt"/></g><path d="M743.7,992.9 L745.2,991.7 L746.7,990.5 L748.2,989.3 L749.7,988.1 L751.2,986.9 L752.7,985.6 L754.2,984.4 L755.7,983.1 L757.2,981.9 L758.7,980.6 L760.2,979.3 L761.7,978 L763.2,976.7 L764.7,975.4 L766.2,974.1 L767.7,972.7 L769.2,971.3 L770.7,970 L772.2,968.5 L773.7,967.1 L775.2,965.7 L776.7,964.2 L778.2,962.7 L779.7,961.2 L781.2,959.7 L782.7,958.2 L784.2,956.6 L785.7,955 L787.2,953.4 L788.7,951.7 L790.2,950.1 L791.7,948.4 L793.2,946.7 L794.7,944.9 L796.2,943.1 L797.7,941.3 L799.2,939.5 L800.7,937.6 L802.2,935.8 L803.7,933.8 L805.2,931.9 L806.7,929.9 L808.2,927.9 L809.7,925.9 L811.2,923.8 L812.7,921.7 L814.2,919.6 L815.7,917.4 L817.2,915.2 L818.7,913 L820.2,910.8 L821.7,908.6 L823.2,906.5 L824.7,904.5 L826.2,902.6 L827.7,901 L829.2,899.5 L829.4,899.4" fill="none" stroke="#ff0080" stroke-width="4.7" stroke-linejoin="round" stroke-linecap="butt"/><path d="M484.2,682.4L505.4,673.9M516.3,670.8L536.4,667M547.7,665.3L568.1,662.9M579.5,661.8L599.7,660.1M611.1,659.2L631.2,657.5M642.6,656.6L663.3,655M674.7,654.3L695.3,653.1M706.7,652.5L726.6,651.5M769.7,649.3L790.7,647.8M802.1,647.2L822,646.3" stroke="#ff0080" stroke-width="1.5" fill="none"/><path d="M510.7,669.5v4.6M542,663.7v4.6M573.8,659.9v4.6M605.4,657.4v4.6M636.9,654.7v4.6M669,652.3v4.6M701,650.5v4.6M732.3,648.9v4.6M764,647.4v4.6M796.4,645.1v4.6M827.7,643.8v4.6" stroke="#ff0080" stroke-width="4.4" fill="none"/><path d="M104.4,1144.5L123.4,1142.3M134.8,1141.3L155.7,1140.3M167.1,1139.7L186.9,1138.7M198.3,1138.1L218.7,1137.2M230.1,1136.6L250.5,1135.6M261.9,1135L282.3,1133.7M293.7,1133L313.7,1131.6M325.1,1130.8L345.9,1129.2M357.3,1128.3L377.2,1126.5M388.6,1125.4L409,1123M420.3,1121.4L440.9,1118M452,1115.6L474.8,1109.6" stroke="#ff0080" stroke-width="1.5" fill="none"/><path d="M129.1,1139.3v4.6M161.4,1137.7v4.6M192.6,1136.1v4.6M224.4,1134.6v4.6M256.2,1133v4.6M288,1131.1v4.6M319.4,1128.9v4.6M351.6,1126.5v4.6M382.9,1123.7v4.6M414.7,1120.1v4.6M446.5,1114.7v4.6" stroke="#ff0080" stroke-width="4.4" fill="none"/><g clip-path="url(#cU)"><path d="M214.2,783.8 L215.7,782.6 L217.2,781.5 L218.7,780.4 L220.2,779.3 L221.7,778.2 L223.2,777.1 L224.7,776.1 L226.2,775 L227.7,774 L229.2,773 L230.7,771.9 L232.2,771 L233.7,770 L235.2,769 L236.7,768 L238.2,767.1 L239.7,766.2 L241.2,765.3 L242.7,764.3 L244.2,763.5 L245.7,762.6 L247.2,761.7 L248.7,760.8 L250.2,760 L251.7,759.2 L253.2,758.3 L254.7,757.5 L256.2,756.7 L257.7,755.9 L259.2,755.1 L260.7,754.4 L262.2,753.6 L263.7,752.8 L265.2,752.1 L266.7,751.4 L268.2,750.7 L269.7,749.9 L271.2,749.2 L272.7,748.6 L274.2,747.9 L275.7,747.2 L277.2,746.5 L278.7,745.9 L280.2,745.2 L281.7,744.6 L283.2,744 L284.7,743.4 L286.2,742.7 L287.7,742.1 L289.2,741.5 L290.7,741 L292.2,740.4 L293.7,739.8 L295.2,739.3 L296.7,738.7 L298.2,738.2 L299.7,737.6 L301.2,737.1 L302.7,736.6 L304.2,736 L305.7,735.5 L307.2,735 L308.7,734.5 L310.2,734 L311.7,733.6 L313.2,733.1 L314.7,732.6 L316.2,732.1 L317.7,731.7 L319.2,731.2 L320.7,730.8 L322.2,730.3 L323.7,729.9 L325.2,729.5 L326.7,729 L328.2,728.6 L329.7,728.2 L331.2,727.8 L332.7,727.4 L334.2,727 L335.7,726.6 L337.2,726.2 L338.7,725.8 L340.2,725.4 L341.7,725.1 L343.2,724.7 L344.7,724.3 L346.2,723.9 L347.7,723.6 L349.2,723.2 L350.7,722.8 L352.2,722.5 L353.7,722.1 L355.2,721.8 L356.7,721.4 L358.2,721.1 L359.7,720.7 L361.2,720.4 L362.7,720 L364.2,719.7 L365.7,719.3 L367.2,719 L368.7,718.6 L370.2,718.3 L371.7,717.9 L373.2,717.5 L374.7,717.2 L376.2,716.8 L377.7,716.5 L379.2,716.1 L380.7,715.7 L382.2,715.3 L383.7,715 L385.2,714.6 L386.7,714.2 L388.2,713.8 L389.7,713.4 L391.2,713 L392.7,712.6 L394.2,712.1 L395.7,711.7 L397.2,711.3 L398.7,710.8 L400.2,710.4 L401.7,709.9 L403.2,709.5 L404.7,709 L406.2,708.5 L407.7,708 L409.2,707.6 L410.7,707.1 L412.2,706.5 L413.7,706 L415.2,705.5 L416.7,704.9 L418.2,704.4 L419.7,703.8 L421.2,703.3 L422.7,702.7 L424.2,702.1 L425.7,701.5 L427.2,700.9 L428.7,700.3 L430.2,699.6 L431.7,699 L433.2,698.3 L434.7,697.6 L436.2,697 L437.7,696.3 L439.2,695.6 L440.7,694.8 L442.2,694.1 L443.7,693.4 L445.2,692.6 L446.7,691.9 L448.2,691.1 L449.7,690.3 L451.2,689.6 L452.7,688.8 L454.2,688 L455.7,687.3 L457.2,686.5 L458.7,685.7 L460.2,685 L461.7,684.2 L463.2,683.5 L464.7,682.7 L466.2,682 L467.7,681.2 L469.2,680.5 L470.7,679.8 L472.2,679.1 L473.7,678.4 L475.2,677.7 L476.7,677.1 L478.2,676.4 L479.7,675.8 L481.2,675.2 L482.7,674.6 L484,674.1" fill="none" stroke="#008080" stroke-width="4.7" stroke-linejoin="round" stroke-linecap="butt"/></g><path d="M99.7,915.6 L101.2,913.5 L102.7,911.5 L104.2,909.4 L105.7,907.4 L107.2,905.4 L108.7,903.3 L110.2,901.3 L111.7,899.3 L113.2,897.3 L114.7,895.3 L116.2,893.3 L117.7,891.3 L119.2,889.4 L120.7,887.4 L122.2,885.4 L123.7,883.5 L125.2,881.5 L126.7,879.6 L128.2,877.6 L129.7,875.7 L131.2,873.8 L132.7,871.9 L134.2,870 L135.7,868.1 L137.2,866.2 L138.7,864.3 L140.2,862.4 L141.7,860.5 L143.2,858.7 L144.7,856.8 L146.2,855 L147.7,853.2 L149.2,851.3 L150.7,849.5 L152.2,847.7 L153.7,845.9 L155.2,844.1 L156.7,842.3 L158.2,840.5 L159.7,838.8 L161.2,837 L162.7,835.3 L164.2,833.5 L165.7,831.8 L167.2,830.1 L168.7,828.3 L170.2,826.6 L171.7,824.9 L173.2,823.3 L174.7,821.6 L176.2,819.9 L177.7,818.3 L179.2,816.6 L180.7,815 L182.2,813.4 L183.7,811.7 L185.2,810.1 L186.7,808.5 L188.2,807 L189.7,805.4 L191.2,803.8 L192.7,802.3 L194.2,800.7 L195.7,799.2 L196.3,798.6" fill="none" stroke="#008080" stroke-width="4.7" stroke-linejoin="round" stroke-linecap="butt"/><g clip-path="url(#cA)"><path d="M472.5,1111.6 L474,1110.7 L475.5,1109.7 L477,1108.7 L478.5,1107.8 L480,1106.8 L481.5,1105.9 L483,1105 L484.5,1104.1 L486,1103.3 L487.5,1102.4 L489,1101.6 L490.5,1100.8 L492,1099.9 L493.5,1099.1 L495,1098.3 L496.5,1097.6 L498,1096.8 L499.5,1096.1 L501,1095.3 L502.5,1094.6 L504,1093.9 L505.5,1093.2 L507,1092.5 L508.5,1091.8 L510,1091.1 L511.5,1090.5 L513,1089.8 L514.5,1089.2 L516,1088.5 L517.5,1087.9 L519,1087.3 L520.5,1086.7 L522,1086.1 L523.5,1085.5 L525,1085 L526.5,1084.4 L528,1083.8 L529.5,1083.3 L531,1082.7 L532.5,1082.2 L534,1081.7 L535.5,1081.2 L537,1080.6 L538.5,1080.1 L540,1079.6 L541.5,1079.1 L543,1078.7 L544.5,1078.2 L546,1077.7 L547.5,1077.2 L549,1076.8 L550.5,1076.3 L552,1075.8 L553.5,1075.4 L555,1075 L556.5,1074.5 L558,1074.1 L559.5,1073.6 L561,1073.2 L562.5,1072.8 L564,1072.4 L565.5,1071.9 L567,1071.5 L568.5,1071.1 L570,1070.7 L571.5,1070.3 L573,1069.9 L574.5,1069.5 L576,1069 L577.5,1068.6 L579,1068.2 L580.5,1067.8 L582,1067.4 L583.5,1067 L585,1066.6 L586.5,1066.2 L588,1065.8 L589.5,1065.4 L591,1065 L592.5,1064.6 L594,1064.2 L595.5,1063.8 L597,1063.4 L598.5,1063 L600,1062.6 L601.5,1062.2 L603,1061.8 L604.5,1061.4 L606,1061 L607.5,1060.6 L609,1060.2 L610.5,1059.7 L612,1059.3 L613.5,1058.9 L615,1058.5 L616.5,1058.1 L618,1057.6 L619.5,1057.2 L621,1056.8 L622.5,1056.3 L624,1055.9 L625.5,1055.5 L627,1055 L628.5,1054.6 L630,1054.1 L631.5,1053.7 L633,1053.2 L634.5,1052.8 L636,1052.3 L637.5,1051.8 L639,1051.3 L640.5,1050.9 L642,1050.4 L643.5,1049.9 L645,1049.4 L646.5,1048.9 L648,1048.4 L649.5,1047.9 L651,1047.4 L652.5,1046.9 L654,1046.3 L655.5,1045.8 L657,1045.3 L658.5,1044.8 L660,1044.2 L661.5,1043.7 L663,1043.1 L664.5,1042.6 L666,1042 L667.5,1041.5 L669,1040.9 L670.5,1040.4 L672,1039.8 L673.5,1039.2 L675,1038.6 L676.5,1038.1 L678,1037.5 L679.5,1036.9 L681,1036.3 L682.5,1035.7 L684,1035.1 L685.5,1034.5 L687,1033.9 L688.5,1033.2 L690,1032.6 L691.5,1032 L693,1031.4 L694.5,1030.7 L696,1030.1 L697.5,1029.5 L699,1028.8 L700.5,1028.2 L702,1027.5 L703.5,1026.9 L705,1026.2 L706.5,1025.5 L708,1024.9 L709.5,1024.2 L710.3,1023.8" fill="none" stroke="#008080" stroke-width="4.7" stroke-linejoin="round" stroke-linecap="butt"/></g><path d="M727.4,1011.1 L728.9,1010.1 L730.4,1009.1 L731.9,1008 L733.4,1007 L734.9,1005.9 L736.4,1004.8 L737.9,1003.7 L739.4,1002.6 L740.9,1001.5 L742.4,1000.3 L743.9,999.2 L745.4,998 L746.9,996.8 L748.4,995.6 L749.9,994.4 L751.4,993.2 L752.9,992 L754.4,990.7 L755.9,989.4 L757.4,988.1 L758.9,986.8 L760.4,985.5 L761.9,984.2 L763.4,982.9 L764.9,981.5 L766.4,980.1 L767.9,978.7 L769.4,977.3 L770.9,975.9 L772.4,974.5 L773.9,973 L775.4,971.5 L776.9,970 L778.4,968.5 L779.9,967 L781.4,965.5 L782.9,963.9 L784.4,962.3 L785.9,960.7 L787.4,959.1 L788.9,957.5 L790.4,955.9 L791.9,954.2 L793.4,952.5 L794.9,950.8 L796.4,949.1 L797.9,947.3 L799.4,945.6 L800.9,943.8 L802.4,942 L803.9,940.2 L805.4,938.4 L806.9,936.5 L808.4,934.6 L809.9,932.7 L811.4,930.8 L812.9,928.9 L814.4,926.9 L815.9,925 L817.4,923 L818.9,921 L820.4,918.9 L821.9,916.9 L823.4,914.8 L824.9,912.7 L826.4,910.6 L827.9,908.4 L829.4,906.3" fill="none" stroke="#008080" stroke-width="4.7" stroke-linejoin="round" stroke-linecap="butt"/><path d="M484.2,676.2L505.4,667.6M516.3,664.5L536.4,661.4M547.7,659.9L568.1,657.6M579.5,656.5L599.7,654.9M611.1,654L631.2,652.4M642.6,651.8L663.3,650.8M674.7,650.3L695.3,649.3M706.7,648.7L726.6,647.5M769.7,644.8L790.7,644.1M802.1,643.6L822,642.6" stroke="#008080" stroke-width="1.5" fill="none"/><path d="M510.7,663.1v4.6M542,658.2v4.6M573.8,654.7v4.6M605.4,652.1v4.6M636.9,649.7v4.6M669,648.3v4.6M701,646.7v4.6M732.3,644.9v4.6M764,642.7v4.6M796.4,641.6v4.6M827.7,640v4.6" stroke="#008080" stroke-width="4.4" fill="none"/><path d="M104.4,1146L123.4,1143.8M134.8,1142.8L155.7,1141.8M167.1,1141.2L186.9,1140.2M198.3,1139.6L218.7,1138.7M230.1,1138.1L250.5,1137.1M261.9,1136.5L282.3,1135.2M293.7,1134.5L313.7,1133.1M325.1,1132.3L345.9,1130.7M357.3,1129.8L377.2,1128M388.6,1126.9L409,1124.5M420.3,1122.9L440.9,1119.5M452,1117.1L474.8,1111.4" stroke="#008080" stroke-width="1.5" fill="none"/><path d="M129.1,1140.8v4.6M161.4,1139.2v4.6M192.6,1137.6v4.6M224.4,1136.1v4.6M256.2,1134.5v4.6M288,1132.6v4.6M319.4,1130.4v4.6M351.6,1128v4.6M382.9,1125.2v4.6M414.7,1121.6v4.6M446.5,1116.2v4.6" stroke="#008080" stroke-width="4.4" fill="none"/><path d="M89.8,741.5H98.8M89.8,895.6H98.8M89.8,1049.7H98.8M94.0,664.5H98.8M94.0,818.6H98.8M94.0,972.6H98.8M94.0,1126.7H98.8M162.2,1153.9V1162.9M479.8,1153.9V1162.9M797.4,1153.9V1162.9M321,1153.9V1158.9M638.6,1153.9V1158.9" stroke="#000" stroke-width="2.1" fill="none"/><text transform="translate(83.6,751.6)" text-anchor="end" font-family="'Liberation Sans', Arial, Helvetica, sans-serif" font-size="36" font-weight="normal" fill="#000" >25</text><text transform="translate(83.6,905.7)" text-anchor="end" font-family="'Liberation Sans', Arial, Helvetica, sans-serif" font-size="36" font-weight="normal" fill="#000" >0</text><text transform="translate(83.6,1059.8)" text-anchor="end" font-family="'Liberation Sans', Arial, Helvetica, sans-serif" font-size="36" font-weight="normal" fill="#000" >-25</text><text transform="translate(146,1197.3)" text-anchor="start" font-family="'Liberation Sans', Arial, Helvetica, sans-serif" font-size="36" font-weight="normal" fill="#000" >-</text><text transform="translate(156,1197) scale(1.12,1)" text-anchor="start" font-family="NanumGothic, 'Liberation Sans', sans-serif" font-size="32.5" font-weight="bold" fill="#000" >1</text><text transform="translate(479.8,1197.3)" text-anchor="middle" font-family="'Liberation Sans', Arial, Helvetica, sans-serif" font-size="36" font-weight="normal" fill="#000" >0</text><text transform="translate(786.5,1196.6) scale(1.12,1)" text-anchor="start" font-family="NanumGothic, 'Liberation Sans', sans-serif" font-size="32.5" font-weight="bold" fill="#000" >1</text>
<g font-family="'Liberation Sans', Arial, Helvetica, sans-serif" fill="#000" font-size="25.8">
<text x="142.4" y="44.6" textLength="186" lengthAdjust="spacingAndGlyphs">Cooling field 7T</text>
<text x="142.6" y="77.6" textLength="192.6" lengthAdjust="spacingAndGlyphs">from 400K to 5K</text>
</g><g font-family="'Liberation Sans', Arial, Helvetica, sans-serif" fill="#000" font-size="26.3">
<text x="117.8" y="668.6" textLength="193" lengthAdjust="spacingAndGlyphs">Cooling field 7T</text>
<text x="119" y="702.6" textLength="198.5" lengthAdjust="spacingAndGlyphs">from 400K to 5K</text>
</g><text transform="translate(445,173.5)" text-anchor="start" font-family="'Liberation Sans', Arial, Helvetica, sans-serif" font-size="25.2" font-weight="bold" fill="#008080" >FC</text><text transform="translate(579.3,115.9)" text-anchor="start" font-family="'Liberation Sans', Arial, Helvetica, sans-serif" font-size="26.6" font-weight="bold" fill="#ff0080" >ZFC</text><text transform="translate(117.9,810.6)" text-anchor="start" font-family="'Liberation Sans', Arial, Helvetica, sans-serif" font-size="34.6" font-weight="bold" fill="#008080" >FC</text><text transform="translate(259.8,808.4)" text-anchor="start" font-family="'Liberation Sans', Arial, Helvetica, sans-serif" font-size="35.3" font-weight="bold" fill="#ff0080" >ZFC</text><text transform="translate(173.9,929.3)" text-anchor="start" font-family="'Liberation Sans', Arial, Helvetica, sans-serif" font-size="26.5" font-weight="bold" fill="#000" font-style="italic">μ</text><text transform="translate(189.5,940.4)" text-anchor="start" font-family="'Liberation Sans', Arial, Helvetica, sans-serif" font-size="15.5" font-weight="bold" fill="#000" >0</text><text transform="translate(198.3,929.3)" text-anchor="start" font-family="'Liberation Sans', Arial, Helvetica, sans-serif" font-size="26.5" font-weight="bold" fill="#000" >H</text><text transform="translate(218,940.6)" text-anchor="start" font-family="'Liberation Sans', Arial, Helvetica, sans-serif" font-size="15.5" font-weight="bold" fill="#000" >E</text><text transform="translate(235,929.3) scale(1.1,1)" text-anchor="start" font-family="'Liberation Sans', Arial, Helvetica, sans-serif" font-size="26.5" font-weight="bold" fill="#000" >=</text><text transform="translate(259.2,929.3) scale(1.03,1)" text-anchor="start" font-family="'Liberation Sans', Arial, Helvetica, sans-serif" font-size="26.5" font-weight="bold" fill="#000" >20</text><text transform="translate(297,929.3) scale(1.02,1)" text-anchor="start" font-family="'Liberation Sans', Arial, Helvetica, sans-serif" font-size="26.5" font-weight="bold" fill="#000" >mT</text><text x="411" y="579.8" font-family="'Liberation Serif', 'Times New Roman', serif" font-weight="bold" font-size="34.3" fill="#000">μ<tspan font-size="19.5" dy="13.5">0</tspan><tspan dy="-13.5">H (T)</tspan></text><text x="408" y="1236.7" font-family="'Liberation Serif', 'Times New Roman', serif" font-weight="bold" font-size="36" fill="#000">μ<tspan font-size="20.5" dy="14">0</tspan><tspan dy="-14">H (T)</tspan></text><text transform="translate(35.7,357) rotate(-90)" font-family="'Liberation Serif', 'Times New Roman', serif" font-weight="bold" font-size="34.9" fill="#000">M (Am<tspan dy="-11.4">2</tspan><tspan dy="11.4">/kg)</tspan></text><text transform="translate(36.9,971.5) rotate(-90)" font-family="'Liberation Serif', 'Times New Roman', serif" font-weight="bold" font-size="36.5" fill="#000">M (Am<tspan font-size="22" font-weight="normal" dy="-19.6">2</tspan><tspan dy="19.6">/kg)</tspan></text>
</svg>
</body></html>
